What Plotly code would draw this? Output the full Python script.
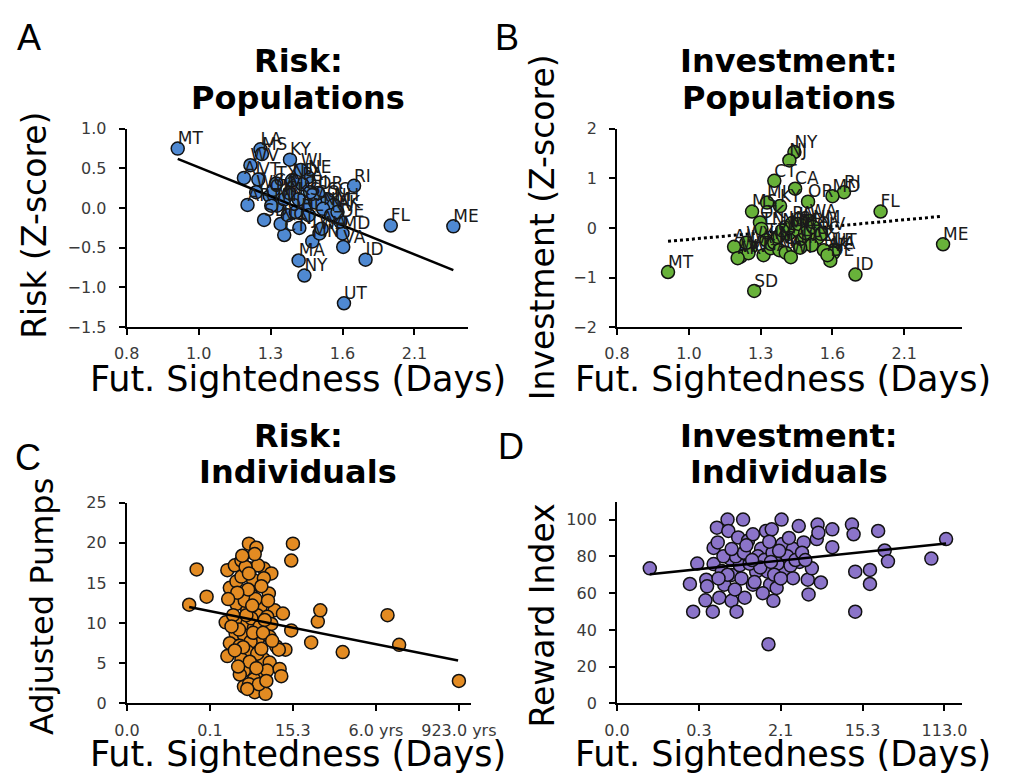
import plotly.graph_objects as go

# ---------------- Panel A / B : states ----------------
states = ["MT","ME","FL","RI","UT","ID","NY","MA","NJ","CT","CA","MD","MI","SD","LA","KY","NE","WV","VT","AL",
          "SC","NH","VA","DE","AR","MS","OK","TN","GA","TX","NC","IN","OH","MO","IA","KS","WI","PA","IL","MN",
          "CO","OR","WA","AZ","NM","NV","WY","ND","HI","AK"]
state_x = [0.71,4.54,3.67,3.16,3.02,3.32,2.47,2.39,2.40,2.19,2.48,3.00,2.09,1.91,1.86,2.27,2.52,1.72,1.83,1.63,
           2.79,2.88,3.01,2.97,1.68,1.88,1.99,2.01,2.04,2.08,2.14,2.19,2.24,2.26,2.35,2.39,2.42,2.44,2.53,2.58,
           2.62,2.66,2.68,2.71,2.73,2.84,1.80,2.30,2.55,2.93]
risk_z = [0.75,-0.23,-0.22,0.28,-1.20,-0.65,-0.85,-0.66,-0.25,-0.34,0.03,-0.32,0.03,-0.15,0.74,0.61,0.39,0.54,0.36,0.38,
          0.11,0.04,-0.49,-0.17,0.04,0.68,0.15,0.03,0.23,0.31,-0.20,0.11,-0.09,0.19,-0.05,0.11,0.48,0.30,-0.09,-0.42,
          0.07,0.19,-0.32,-0.26,-0.01,-0.09,0.20,0.35,0.20,-0.05]
invest_z = [-0.89,-0.33,0.33,0.72,-0.45,-0.94,1.53,-0.12,1.36,0.95,0.79,0.64,0.51,-1.27,-0.40,0.44,-0.05,-0.58,-0.51,-0.38,
            -0.20,-0.45,-0.51,-0.66,-0.61,0.33,0.11,-0.02,-0.55,-0.25,-0.41,-0.30,-0.18,-0.45,-0.50,0.00,-0.59,0.10,0.08,-0.25,
            -0.10,0.53,0.14,-0.35,0.02,-0.12,-0.30,-0.05,-0.40,-0.55]
pop_ticks = [0,1,2,3,4]
pop_ticktext = ["0.8","1.0","1.3","1.6","2.1"]
riskA_ticks = [1.0,0.5,0.0,-0.5,-1.0,-1.5]
riskA_ticktext = ["1.0","0.5","0.0","\u22120.5","\u22121.0","\u22121.5"]
invB_ticks = [2,1,0,-1,-2]
invB_ticktext = ["2","1","0","\u22121","\u22122"]
fitA = {"x": [0.71, 4.54], "slope": -0.366, "intercept": 0.88}
fitB = {"x": [0.71, 4.50], "slope": 0.132, "intercept": -0.364}

# ---------------- Panel C : individuals, risk ----------------
pumps_x = [0.75,0.84,0.96,1.19,1.21,1.21,1.30,1.38,1.24,1.32,1.47,1.56,1.49,1.65,1.74,1.52,1.65,1.71,1.49,1.41,
           1.32,1.53,1.61,1.45,1.57,1.78,1.88,1.69,1.34,1.45,1.74,1.53,1.31,1.41,1.58,1.72,1.24,1.36,1.49,1.80,
           1.91,1.83,1.45,1.38,1.49,1.65,1.72,1.41,1.61,1.69,1.84,1.86,1.53,1.41,1.47,1.54,1.67,2.00,1.98,1.98,
           2.22,2.30,2.33,2.60,3.14,3.28,4.00,
           1.28,1.35,1.42,1.50,1.55,1.60,1.38,1.46,1.62,1.58,1.43,1.33,1.52,1.66,1.40,1.57,1.30,1.62,1.48,1.36,
           1.56,1.44,1.51,1.70,1.26,1.47,1.54,1.39,1.64,1.75,1.34,1.59,1.45,1.68,1.22]
pumps_y = [12.3,16.7,13.3,10.1,5.9,16.6,17.2,17.8,14.4,15.2,19.9,19.4,16.8,16.8,16.2,15.4,15.6,13.7,13.6,13.2,
           12.4,12.6,12.0,11.6,11.0,11.6,11.2,10.8,10.5,9.9,9.9,9.4,8.7,8.5,8.1,8.3,7.5,7.2,7.7,7.1,
           6.7,6.7,6.5,5.5,4.9,5.5,5.1,4.1,3.9,4.1,4.3,3.4,3.0,2.1,2.4,1.4,1.2,19.9,17.8,9.1,
           7.6,10.2,11.6,6.4,11.0,7.3,2.8,
           11.0,9.2,12.8,10.6,13.0,9.6,15.8,14.2,14.6,17.2,17.0,13.8,8.8,10.4,7.0,6.2,6.6,6.8,5.2,3.6,
           4.4,11.0,12.2,12.8,9.6,16.2,18.6,18.4,8.8,7.8,4.6,2.4,1.8,2.8,13.0]
C_ticks = [0,1,2,3,4]
C_ticktext = ["0.0","0.1","15.3","6.0 yrs","923.0 yrs"]
C_yticks = [0,5,10,15,20,25]
fitC = {"x": [0.75, 3.99], "slope": -2.05, "intercept": 13.54}

# ---------------- Panel D : individuals, investment ----------------
reward_x = [0.40,0.89,0.93,0.98,1.09,1.10,1.08,1.17,1.18,1.18,1.22,1.23,1.25,1.31,1.35,1.36,1.38,1.40,1.40,1.46,
            1.48,1.50,1.54,1.56,1.60,1.66,1.66,1.70,1.76,1.82,1.84,1.85,1.87,1.91,1.89,1.95,1.99,2.01,2.02,2.05,
            2.15,2.15,2.22,2.23,2.28,2.33,2.34,2.38,2.44,2.45,2.46,2.49,2.63,2.63,2.87,2.89,2.91,2.91,3.09,3.09,
            3.19,3.27,3.31,3.84,4.02,
            1.45,1.55,1.62,1.72,1.80,1.90,1.96,2.08,2.12,1.28,1.35,1.52,1.68,1.75,1.86,1.58,1.44,1.92,2.18,2.26,
            1.30,1.40,1.65,2.00,1.78,1.98,2.10,1.24,2.30,1.88]
reward_y = [73.5,65,49.9,76.1,67.3,63.7,56.1,49.9,84.6,75.8,95.6,87.6,57.5,64.6,100,93.8,78.8,69.9,55.8,49.9,
            90.3,75.2,100,57.5,88.5,92,64.6,71.7,84.1,93.8,71.7,32.2,64.6,55.8,94.7,62.8,79.6,100,86.7,72.6,
            68.1,84.1,96.5,77,87.6,67.3,59.3,73.5,89.4,97.3,92.9,65.8,94.7,85,97.3,92,71.7,49.9,72.6,65,
            93.8,83.2,77.3,78.8,89.4,
            80,82,76,80,78,82,76,80,75,72,70,68,66,74,88,86,62,70,78,82,
            80,84,78,68,60,83,90,68,78,77]
D_ticks = [0,1,2,3,4]
D_ticktext = ["0.0","0.3","2.1","15.3","113.0"]
D_yticks = [0,20,40,60,80,100]
fitD = {"x": [0.40, 4.02], "slope": 4.64, "intercept": 68.4}

FONT = "DejaVu Sans"
W, H = 1025, 784

def px(x):
    return x / W

def py(y):
    return 1 - y / H

fig = go.Figure()

def marker(color):
    return dict(size=13, color=color, line=dict(color="#111", width=1.5))

def line_from(fit, axis_suffix, dash="solid", width=2.5):
    xs = fit["x"]
    ys = [fit["intercept"] + fit["slope"] * v for v in xs]
    fig.add_trace(go.Scatter(x=xs, y=ys, mode="lines", xaxis="x" + axis_suffix, yaxis="y" + axis_suffix,
                             line=dict(color="black", width=width, dash=dash), hoverinfo="skip"))

LBL = dict(family=FONT, size=17, color="#1a1a1a")
# Panel A
fig.add_trace(go.Scatter(x=state_x, y=risk_z, mode="markers", marker=marker("#4f89d2"),
                         xaxis="x", yaxis="y", cliponaxis=False))
line_from(fitA, "")
fig.add_trace(go.Scatter(x=state_x, y=risk_z, mode="text", text=states, textposition="top right",
                         textfont=LBL, xaxis="x", yaxis="y", cliponaxis=False))
# Panel B
line_from(fitB, "2", dash="dot", width=3)
fig.add_trace(go.Scatter(x=state_x, y=invest_z, mode="markers", marker=marker("#68b23a"),
                         xaxis="x2", yaxis="y2", cliponaxis=False))
fig.add_trace(go.Scatter(x=state_x, y=invest_z, mode="text", text=states, textposition="top right",
                         textfont=LBL, xaxis="x2", yaxis="y2", cliponaxis=False))
# Panel C
fig.add_trace(go.Scatter(x=pumps_x, y=pumps_y, mode="markers", marker=marker("#e38b22"),
                         xaxis="x3", yaxis="y3", cliponaxis=False))
line_from(fitC, "3")
# Panel D
fig.add_trace(go.Scatter(x=reward_x, y=reward_y, mode="markers", marker=marker("#8b74c9"),
                         xaxis="x4", yaxis="y4", cliponaxis=False))
line_from(fitD, "4")

axis_common = dict(showline=True, linecolor="black", linewidth=2, ticks="outside", ticklen=6,
                   tickwidth=1.5, tickcolor="black", showgrid=False, zeroline=False,
                   tickfont=dict(family=FONT, size=16, color="#3a3a3a"))
xax = dict(ticklabelstandoff=5, **axis_common)
yax = dict(ticklabelstandoff=9, **axis_common)

fig.update_layout(
    width=W, height=H, showlegend=False, plot_bgcolor="white", paper_bgcolor="white",
    margin=dict(l=0, r=0, t=0, b=0),
    xaxis=dict(domain=[px(118), px(473)], range=[0, 4.75], tickvals=pop_ticks, ticktext=pop_ticktext,
               anchor="y", **xax),
    yaxis=dict(domain=[py(326), py(122.7)], range=[-1.5, 1.0], tickvals=riskA_ticks, ticktext=riskA_ticktext,
               anchor="x", **yax),
    xaxis2=dict(domain=[px(627.3), px(986)], range=[0, 4.81], tickvals=pop_ticks, ticktext=pop_ticktext,
                anchor="y2", **xax),
    yaxis2=dict(domain=[py(326), py(122.7)], range=[-2, 2], tickvals=invB_ticks, ticktext=invB_ticktext,
                anchor="x2", **yax),
    xaxis3=dict(domain=[px(118.3), px(476)], range=[0, 4.15], tickvals=C_ticks, ticktext=C_ticktext,
                anchor="y3", **xax),
    yaxis3=dict(domain=[py(711.7), py(506)], range=[0, 25], tickvals=C_yticks,
                anchor="x3", **yax),
    xaxis4=dict(domain=[px(627.3), px(986)], range=[0, 4.22], tickvals=D_ticks, ticktext=D_ticktext,
                anchor="y4", **xax),
    yaxis4=dict(domain=[py(711.7), py(505)], range=[0, 109.7], tickvals=D_yticks,
                anchor="x4", **yax),
)

ann = []
def text(x, y, s, size, bold=False, angle=0, family=FONT, xanchor="center", yanchor="middle"):
    ann.append(dict(x=px(x), y=py(y), xref="paper", yref="paper", text=("<b>%s</b>" % s) if bold else s,
                    showarrow=False, textangle=angle, xanchor=xanchor, yanchor=yanchor,
                    font=dict(family=family, size=size, color="black")))

# panel letters
text(2, 29, "A", 36, family="Liberation Sans", xanchor="left")
text(498, 29, "B", 36, family="Liberation Sans", xanchor="left")
text(0, 460, "C", 36, family="Liberation Sans", xanchor="left")
text(502, 448, "D", 36, family="Liberation Sans", xanchor="left")
# titles
TS = 32
text(296, 53, "Risk:", TS, bold=True)
text(296, 91, "Populations", TS, bold=True)
text(806, 53, "Investment:", TS, bold=True)
text(806, 91, "Populations", TS, bold=True)
text(296, 438, "Risk:", TS, bold=True)
text(296, 474, "Individuals", TS, bold=True)
text(806, 438, "Investment:", TS, bold=True)
text(806, 474, "Individuals", TS, bold=True)
# x titles
XS = 35
text(296, 379, "Fut. Sightedness (Days)", XS)
text(800, 379, "Fut. Sightedness (Days)", XS)
text(296, 764, "Fut. Sightedness (Days)", XS)
text(800, 764, "Fut. Sightedness (Days)", XS)
# y titles
YS = 33
text(22, 222, "Risk (Z-score)", YS, angle=-90)
text(550, 224, "Investment (Z-score)", YS, angle=-90)
text(30, 612, "Adjusted Pumps", 32, angle=-90)
text(550, 622, "Reward Index", YS, angle=-90)
fig.update_layout(annotations=ann)

fig.write_html("out.html", config={"displayModeBar": False},
               post_script="document.body.style.margin='0px';")
